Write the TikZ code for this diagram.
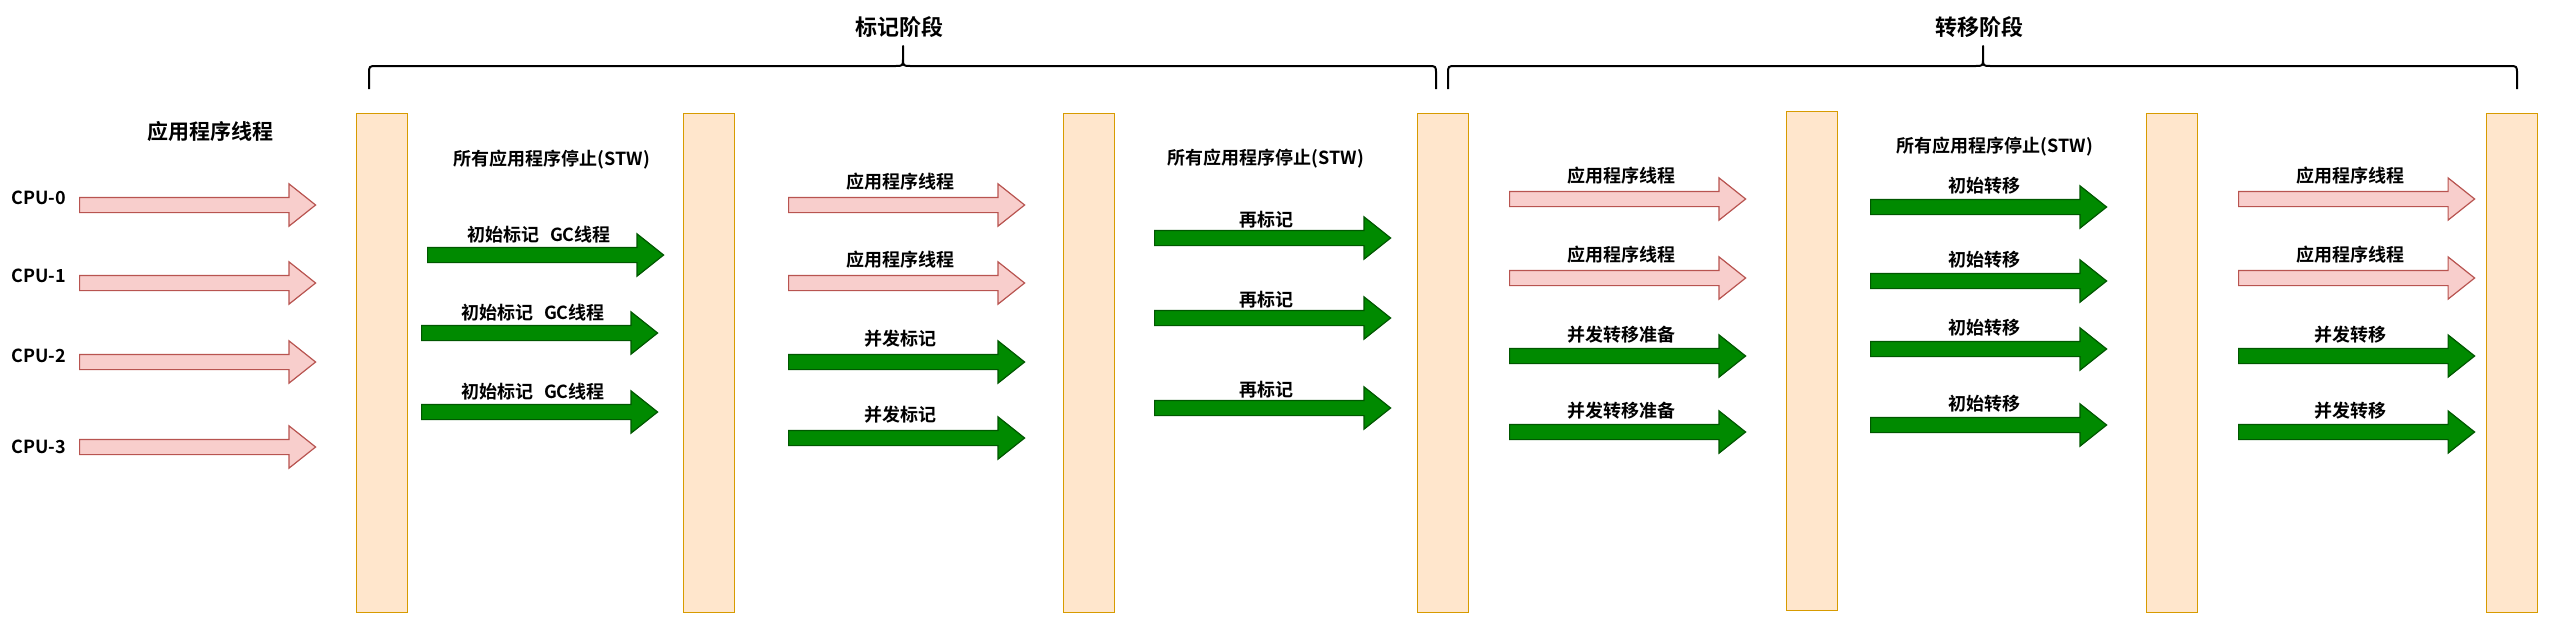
\documentclass[tikz,border=0pt]{standalone}
\usepackage{fontspec}
\setmainfont{Noto Sans CJK SC}[BoldFont={Noto Sans CJK SC Bold}]
\usetikzlibrary{shapes.arrows}
\definecolor{barfill}{HTML}{FFE6CC}
\definecolor{bardraw}{HTML}{D79B00}
\definecolor{appfill}{HTML}{F8CECC}
\definecolor{appdraw}{HTML}{B85450}
\definecolor{gcfill}{HTML}{008A00}
\definecolor{gcdraw}{HTML}{005700}
\begin{document}
\begin{tikzpicture}[x=1pt,y=-1pt,
  stwbar/.style={draw=bardraw,fill=barfill,line width=1.2pt,minimum width=51pt,
    minimum height=499pt,inner sep=0pt,anchor=north west},
  flow/.style={single arrow,single arrow head extend=13.5pt,single arrow tip angle=77,
    minimum height=236pt,inner xsep=0pt,inner ysep=7pt,anchor=tail,line width=1.2pt},
  appflow/.style={flow,draw=appdraw,fill=appfill},
  gcflow/.style={flow,draw=gcdraw,fill=gcfill},
  lbl/.style={font=\bfseries\fontsize{18pt}{20pt}\selectfont,inner sep=0pt},
  phase/.style={font=\bfseries\fontsize{22pt}{24pt}\selectfont,inner sep=0pt},
  phasebrace/.style={line width=2pt,line join=round}]
  \useasboundingbox (0,0) rectangle (2560,633);

  \node[phase] (markphase) at (899,27) {标记阶段};
  \node[phase] (movephase) at (1979,27) {转移阶段};
  \draw[phasebrace] (369,89) -- (369,74) .. controls (369,66) .. (377,66) -- (895,66)
                    .. controls (903,66) .. (903,58) -- (903,46) -- (903,58)
                    .. controls (903,66) .. (911,66) -- (1428,66)
                    .. controls (1436,66) .. (1436,74) -- (1436,89);
  \draw[phasebrace] (1448,89) -- (1448,74) .. controls (1448,66) .. (1456,66) -- (1975,66)
                    .. controls (1983,66) .. (1983,58) -- (1983,46) -- (1983,58)
                    .. controls (1983,66) .. (1991,66) -- (2509,66)
                    .. controls (2517,66) .. (2517,74) -- (2517,89);

  \node[stwbar] (bar1) at (356,113) {};
  \node[stwbar] (bar2) at (683,113) {};
  \node[stwbar] (bar3) at (1063,113) {};
  \node[stwbar] (bar4) at (1417,113) {};
  \node[stwbar] (bar5) at (1786,111) {};
  \node[stwbar] (bar6) at (2146,113) {};
  \node[stwbar] (bar7) at (2486,113) {};

  \node[lbl,font=\bfseries\fontsize{21pt}{23pt}\selectfont] (apphead) at (210,131) {应用程序线程};
  \foreach \y/\ty [count=\i from 0] in {205/198,283/276,362/356,447/447} {
    \node[lbl] (cpulbl\i) at (39,\ty) {CPU-\i};
    \node[appflow] (cpu\i) at (79,\y) {};
  }

  \node[lbl] (stwmark) at (552,160) {所有应用程序停止(STW)};
  \foreach \x/\y [count=\i] in {427/255,421/333,421/412} {
    \node[gcflow] (initmark\i) at (\x,\y) {};
    \node[lbl] (initmarklbl\i) at ([shift={(112,-20)}]initmark\i.tail) {初始标记\hspace{0.6em}GC线程};
  }

  \foreach \y [count=\i] in {205,283} {
    \node[appflow] (markapp\i) at (788,\y) {};
    \node[lbl] (markapplbl\i) at ([shift={(112,-23)}]markapp\i.tail) {应用程序线程};
  }
  \foreach \y [count=\i] in {362,438} {
    \node[gcflow] (concmark\i) at (788,\y) {};
    \node[lbl] (concmarklbl\i) at ([shift={(112,-23)}]concmark\i.tail) {并发标记};
  }

  \node[lbl] (stwremark) at (1266,159) {所有应用程序停止(STW)};
  \foreach \y [count=\i] in {238,318,408} {
    \node[gcflow] (remark\i) at (1154,\y) {};
    \node[lbl] (remarklbl\i) at ([shift={(112,-18)}]remark\i.tail) {再标记};
  }

  \foreach \y [count=\i] in {199,278} {
    \node[appflow] (prepapp\i) at (1509,\y) {};
    \node[lbl] (prepapplbl\i) at ([shift={(112,-23)}]prepapp\i.tail) {应用程序线程};
  }
  \foreach \y [count=\i] in {356,432} {
    \node[gcflow] (concprep\i) at (1509,\y) {};
    \node[lbl] (concpreplbl\i) at ([shift={(112,-21)}]concprep\i.tail) {并发转移准备};
  }

  \node[lbl] (stwmove) at (1995,147) {所有应用程序停止(STW)};
  \foreach \y [count=\i] in {207,281,349,425} {
    \node[gcflow] (initmove\i) at (1870,\y) {};
    \node[lbl] (initmovelbl\i) at ([shift={(114,-21)}]initmove\i.tail) {初始转移};
  }

  \foreach \y [count=\i] in {199,278} {
    \node[appflow] (moveapp\i) at (2238,\y) {};
    \node[lbl] (moveapplbl\i) at ([shift={(112,-23)}]moveapp\i.tail) {应用程序线程};
  }
  \foreach \y [count=\i] in {356,432} {
    \node[gcflow] (concmove\i) at (2238,\y) {};
    \node[lbl] (concmovelbl\i) at ([shift={(112,-21)}]concmove\i.tail) {并发转移};
  }
\end{tikzpicture}
\end{document}
